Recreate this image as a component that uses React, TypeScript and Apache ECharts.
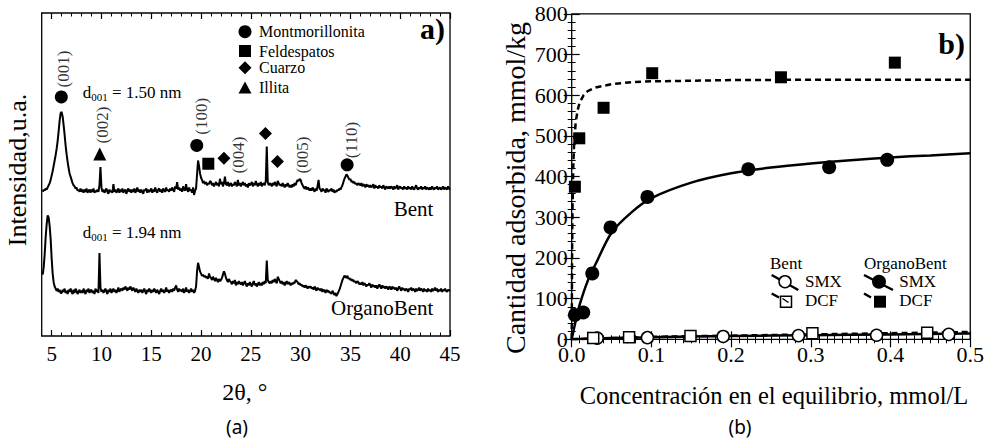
import React, { useEffect, useRef } from "react";
import * as echarts from "echarts";

const SERIF = "Liberation Serif";
const SANS = "Noto Sans";

// ---------- Panel (a): XRD patterns, sampled every 0.1° from 4.1° to 45.0° ----------
const twoThetaStart = 4.1;
const twoThetaStep = 0.1;

const bentIntensity = [
  134, 136, 135, 137, 136, 138, 140, 142, 145,
  149, 153, 158, 163, 168, 174, 181, 190, 200, 207,
  208, 204, 196, 187, 177, 169, 162, 156, 151, 148,
  145, 142, 140, 139, 137, 138, 135, 136, 134, 137,
  134, 136, 133, 136, 134, 137, 133, 135, 136, 133,
  136, 134, 137, 133, 135, 134, 136, 134, 140, 157,
  138, 134, 136, 133, 135, 137, 134, 132, 136, 134,
  135, 133, 141, 134, 136, 133, 135, 137, 133, 136,
  134, 137, 133, 135, 136, 132, 135, 137, 134, 136,
  133, 136, 134, 137, 133, 135, 138, 134, 136, 133,
  136, 134, 132, 136, 135, 137, 133, 136, 134, 135,
  137, 133, 136, 134, 138, 135, 133, 136, 137, 134,
  136, 133, 137, 135, 134, 138, 135, 136, 134, 137,
  135, 138, 136, 134, 139, 137, 143, 136, 138, 135,
  137, 134, 139, 136, 135, 141, 136, 134, 138, 135,
  136, 133, 138, 131, 135, 137, 150, 163, 158, 151,
  147, 145, 142, 144, 141, 143, 140, 142, 141, 144,
  143, 140, 142, 139, 141, 143, 140, 142, 139, 146,
  141, 143, 139, 142, 148, 141, 140, 143, 139, 141,
  142, 139, 141, 140, 143, 141, 139, 145, 140, 142,
  139, 141, 143, 140, 142, 139, 141, 138, 142, 140,
  141, 143, 139, 142, 140, 144, 141, 139, 142, 140,
  143, 139, 141, 142, 140, 144, 176, 143, 140, 142,
  141, 139, 142, 140, 143, 141, 139, 144, 142, 140,
  141, 139, 142, 140, 138, 141, 139, 142, 140, 138,
  140, 138, 141, 139, 142, 140, 143, 145, 144, 146,
  145, 142, 140, 138, 137, 139, 136, 138, 137, 135,
  137, 135, 138, 136, 134, 137, 135, 139, 145, 137,
  136, 134, 137, 135, 136, 133, 137, 135, 134, 136,
  135, 137, 134, 136, 133, 135, 134, 136, 135, 137,
  136, 138, 140, 143, 146, 148, 150, 149, 147, 145,
  146, 143, 144, 142, 143, 141, 142, 140, 142, 141,
  140, 142, 139, 141, 140, 138, 141, 139, 140, 138,
  140, 138, 139, 141, 137, 140, 138, 139, 137, 140,
  138, 139, 137, 140, 138, 136, 139, 138, 137, 139,
  137, 139, 138, 136, 139, 137, 138, 140, 136, 138,
  139, 137, 138, 136, 139, 137, 138, 136, 139, 137,
  138, 136, 139, 137, 136, 138, 140, 137, 136, 138,
  137, 139, 136, 138, 137, 139, 136, 138, 137, 136,
  138, 136, 139, 137, 136, 138, 137, 139, 136, 137,
  138, 136, 137, 139, 136, 138, 137, 136, 139, 137,
  136,
];

const organoBentIntensity = [
  57, 64, 76, 92, 104, 112, 110, 102, 90,
  72, 58, 50, 46, 44, 42, 44, 41, 43, 40,
  40, 43, 41, 44, 40, 42, 39, 43, 41, 44,
  41, 39, 43, 40, 44, 42, 39, 41, 43, 40,
  42, 40, 44, 41, 39, 43, 41, 44, 40, 42,
  43, 40, 42, 39, 44, 41, 43, 40, 77, 45,
  41, 43, 40, 42, 44, 41, 39, 43, 41, 44,
  40, 42, 44, 41, 43, 40, 42, 45, 41, 43,
  44, 42, 45, 43, 46, 44, 42, 45, 43, 46,
  44, 42, 45, 43, 41, 44, 42, 40, 43, 41,
  43, 40, 42, 44, 41, 39, 43, 41, 44, 42,
  40, 43, 41, 44, 42, 40, 43, 41, 39, 42,
  44, 41, 43, 40, 42, 45, 41, 43, 40, 42,
  43, 41, 44, 42, 45, 47, 43, 41, 44, 42,
  43, 41, 44, 40, 42, 45, 41, 43, 40, 42,
  44, 41, 43, 40, 42, 46, 60, 68, 64, 60,
  58, 56, 57, 55, 56, 54, 55, 53, 58, 55,
  54, 52, 55, 53, 51, 54, 52, 50, 53, 51,
  52, 54, 57, 60, 58, 54, 52, 50, 53, 51,
  50, 48, 51, 49, 52, 47, 50, 48, 51, 49,
  48, 50, 47, 49, 51, 48, 46, 49, 47, 50,
  48, 46, 49, 51, 47, 49, 46, 48, 50, 47,
  49, 47, 50, 48, 51, 49, 70, 52, 50, 49,
  51, 49, 52, 50, 53, 51, 49, 55, 53, 51,
  49, 51, 48, 50, 47, 49, 51, 48, 50, 49,
  47, 49, 48, 50, 49, 52, 51, 50, 48, 49,
  47, 48, 46, 47, 45, 47, 46, 44, 46, 45,
  46, 44, 45, 43, 46, 44, 42, 45, 43, 44,
  42, 44, 41, 43, 42, 40, 43, 41, 42, 40,
  41, 39, 42, 40, 38, 40, 37, 39, 41, 43,
  46, 49, 52, 54, 56, 55, 54, 56, 53, 54,
  52, 53, 51, 52, 50, 51, 49, 51, 50, 48,
  49, 48, 50, 47, 49, 48, 46, 48, 47, 49,
  47, 45, 48, 46, 47, 45, 47, 44, 46, 48,
  46, 44, 47, 45, 46, 44, 46, 45, 43, 46,
  45, 43, 46, 44, 45, 43, 45, 42, 44, 46,
  44, 42, 45, 43, 44, 42, 44, 43, 41, 44,
  43, 45, 42, 44, 43, 41, 44, 42, 43, 45,
  42, 44, 43, 41, 44, 42, 43, 41, 44, 42,
  43, 41, 44, 42, 43, 45, 42, 44, 41, 43,
  42, 44, 41, 43, 42, 44, 42, 41, 43, 42,
  43,
];

const xTicksMajorA = [5, 10, 15, 20, 25, 30, 35, 40, 45];

// phase markers [2θ, height]
const montmorilloniteMarks = [[5.97, 222], [19.57, 177], [34.67, 159]];
const illiteMarks = [[9.83, 169]];
const feldsparMarks = [[20.73, 160]];
const quartzMarks = [[22.3, 165], [26.47, 188], [27.67, 162]];
const reflectionNames = ["(001)", "(002)", "(100)", "(004)", "(005)", "(110)"];
const reflectionX = [6.17, 10.07, 20.07, 23.73, 30.23, 35.07];
const reflectionY = [248, 196, 204, 168, 168, 182];

// ---------- Panel (b): adsorption isotherms ----------
const organoSmxC = [0.004, 0.0145, 0.0258, 0.0487, 0.095, 0.2216, 0.323, 0.3958];
const organoSmxQ = [60, 66, 162, 275, 350, 418, 423, 441];
const organoDcfC = [0.004, 0.0095, 0.04, 0.101, 0.2625, 0.4054];
const organoDcfQ = [375, 494, 569, 654, 644, 680];
const bentSmxC = [0.032, 0.095, 0.19, 0.2845, 0.3825, 0.473];
const bentSmxQ = [3, 4, 7, 9, 10, 12];
const bentDcfC = [0.027, 0.072, 0.149, 0.302, 0.446];
const bentDcfQ = [3, 5, 8, 15, 16];

const organoSmxFitC = [0, 0.005, 0.01, 0.02, 0.03, 0.05, 0.075, 0.1, 0.15, 0.2, 0.25, 0.3, 0.35, 0.4, 0.45, 0.5];
const organoSmxFitQ = [0, 45, 85, 143, 185, 262, 312, 347, 385, 408, 422, 432, 440, 447, 452, 457];
const organoDcfFitC = [0, 0.0005, 0.001, 0.002, 0.003, 0.005, 0.0075, 0.01, 0.015, 0.02, 0.03, 0.05, 0.075, 0.1, 0.2, 0.3, 0.4, 0.5];
const organoDcfFitQ = [0, 213, 320, 427, 480, 533, 564, 582, 600, 610, 619, 627, 632, 634, 637, 638, 638, 638];
const bentFitC = [0, 0.05, 0.1, 0.2, 0.3, 0.4, 0.5];
const bentSmxFitQ = [0, 3, 5, 8, 10, 12, 14];
const bentDcfFitQ = [0, 3, 6, 9, 12, 15, 18];

const zip = (a: number[], b: number[]) => a.map((v, i) => [v, b[i]]);

export default function App() {
  const ref = useRef<HTMLDivElement>(null);
  useEffect(() => {
    document.body.style.margin = "0";
    const chart = echarts.init(ref.current!, null, { renderer: "svg" });
    const xrd = (arr: number[]) =>
      arr.map((v, i) => [+(twoThetaStart + i * twoThetaStep).toFixed(1), v]);

    const gridA = { left: 41.7, top: 13, width: 408.3, height: 323 };
    const gridB = { left: 571.7, top: 13.8, width: 400, height: 325.5 };
    const black = "#000";
    const txt = (text: string, x: number, y: number, size: number, extra: any = {}, rotation = 0) => ({
      type: "text",
      x,
      y,
      rotation,
      silent: true,
      style: {
        text,
        fill: black,
        fontFamily: SERIF,
        fontSize: size,
        align: "left",
        verticalAlign: "middle",
        ...extra,
      },
    });
    const markerA = (sym: string, data: number[][], size: number) => ({
      type: "scatter",
      xAxisIndex: 0,
      yAxisIndex: 0,
      symbol: sym,
      symbolSize: size,
      itemStyle: { color: black, opacity: 1 },
      data,
      z: 5,
    });
    const dRich = {
      m: { fontSize: 17, fontFamily: SERIF, lineHeight: 20, color: black },
      s: { fontSize: 11, fontFamily: SERIF, verticalAlign: "bottom", lineHeight: 14, color: black },
    };

    const option: any = {
      animation: false,
      backgroundColor: "#fff",
      textStyle: { fontFamily: SERIF, color: black },
      grid: [
        { ...gridA, show: true, borderColor: black, borderWidth: 1.3, backgroundColor: "transparent" },
        { ...gridB, show: true, borderColor: black, borderWidth: 1.3, backgroundColor: "transparent" },
        { ...gridA, show: false },
      ],
      xAxis: [
        {
          gridIndex: 0, type: "value", min: 4, max: 45, position: "bottom",
          axisLine: { show: false }, splitLine: { show: false },
          axisTick: { show: true, inside: true, length: 6, customValues: xTicksMajorA, lineStyle: { color: black, width: 1.2 } },
          axisLabel: { show: true, customValues: xTicksMajorA, color: black, fontFamily: SERIF, fontSize: 21, margin: 7 },
        },
        {
          gridIndex: 0, type: "value", min: 4, max: 45, position: "top",
          axisLine: { show: false }, splitLine: { show: false },
          axisTick: { show: true, inside: true, length: 6, customValues: xTicksMajorA, lineStyle: { color: black, width: 1.2 } },
          axisLabel: { show: false },
        },
        {
          gridIndex: 1, type: "value", min: 0, max: 0.5, interval: 0.1, position: "bottom",
          axisLine: { show: false }, splitLine: { show: false },
          axisTick: { show: true, inside: true, length: 8, lineStyle: { color: black, width: 1.2 } },
          minorTick: { show: true, splitNumber: 10, length: 4, lineStyle: { color: black, width: 1 } },
          minorSplitLine: { show: false },
          axisLabel: { color: black, fontFamily: SERIF, fontSize: 22, margin: 4, formatter: (v: number) => v.toFixed(1) },
        },
        {
          gridIndex: 1, type: "value", min: 0, max: 0.5, interval: 0.1, position: "top",
          axisLine: { show: false }, splitLine: { show: false },
          axisTick: { show: true, inside: true, length: 8, lineStyle: { color: black, width: 1.2 } },
          minorTick: { show: true, splitNumber: 10, length: 4, lineStyle: { color: black, width: 1 } },
          axisLabel: { show: false },
        },
        {
          gridIndex: 2, type: "value", min: 4, max: 45, interval: 1, position: "bottom",
          axisLine: { show: false }, splitLine: { show: false },
          axisTick: { show: true, inside: true, length: 3.5, lineStyle: { color: black, width: 1 } },
          axisLabel: { show: false },
        },
        {
          gridIndex: 2, type: "value", min: 4, max: 45, interval: 1, position: "top",
          axisLine: { show: false }, splitLine: { show: false },
          axisTick: { show: true, inside: true, length: 3.5, lineStyle: { color: black, width: 1 } },
          axisLabel: { show: false },
        },
      ],
      yAxis: [
        { gridIndex: 0, type: "value", min: 0, max: 300, show: false, splitLine: { show: false } },
        {
          gridIndex: 1, type: "value", min: 0, max: 800, interval: 100, position: "left",
          axisLine: { show: false }, splitLine: { show: false },
          axisTick: { show: true, inside: true, length: 8, lineStyle: { color: black, width: 1.2 } },
          minorTick: { show: true, splitNumber: 5, length: 4, lineStyle: { color: black, width: 1 } },
          axisLabel: { color: black, fontFamily: SERIF, fontSize: 22, margin: 4 },
        },
        {
          gridIndex: 1, type: "value", min: 0, max: 800, interval: 100, position: "right",
          axisLine: { show: false }, splitLine: { show: false },
          axisTick: { show: true, inside: true, length: 8, lineStyle: { color: black, width: 1.2 } },
          minorTick: { show: true, splitNumber: 5, length: 4, lineStyle: { color: black, width: 1 } },
          axisLabel: { show: false },
        },
        { gridIndex: 2, type: "value", min: 0, max: 300, show: false, splitLine: { show: false } },
      ],
      series: [
        {
          name: "Bent XRD", type: "line", xAxisIndex: 0, yAxisIndex: 0, showSymbol: false,
          lineStyle: { color: black, width: 2 }, data: xrd(bentIntensity), z: 3,
        },
        {
          name: "OrganoBent XRD", type: "line", xAxisIndex: 0, yAxisIndex: 0, showSymbol: false,
          lineStyle: { color: black, width: 2 }, data: xrd(organoBentIntensity), z: 3,
        },
        markerA("circle", montmorilloniteMarks, 13),
        markerA("rect", feldsparMarks, 12),
        markerA("diamond", quartzMarks, 13),
        markerA("triangle", illiteMarks, 13),
        {
          type: "scatter", xAxisIndex: 0, yAxisIndex: 0, symbol: "circle", symbolSize: 0.1,
          itemStyle: { color: "rgba(0,0,0,0)" },
          label: {
            show: true, position: "inside", rotate: 90, formatter: "{b}",
            color: black, fontFamily: SERIF, fontSize: 17,
          },
          data: reflectionNames.map((n, i) => ({ name: n, value: [reflectionX[i], reflectionY[i]] })),
          z: 6,
        },
        // panel b
        {
          type: "line", xAxisIndex: 2, yAxisIndex: 1, showSymbol: false, smooth: 0.3,
          lineStyle: { color: black, width: 2.5 }, data: zip(organoSmxFitC, organoSmxFitQ), z: 3,
        },
        {
          type: "line", xAxisIndex: 2, yAxisIndex: 1, showSymbol: false,
          lineStyle: { color: black, width: 2.5, type: [6, 4] }, data: zip(organoDcfFitC, organoDcfFitQ), z: 3,
        },
        {
          type: "line", xAxisIndex: 2, yAxisIndex: 1, showSymbol: false, smooth: 0.3,
          lineStyle: { color: black, width: 2.5 }, data: zip(bentFitC, bentSmxFitQ), z: 3,
        },
        {
          type: "line", xAxisIndex: 2, yAxisIndex: 1, showSymbol: false, smooth: 0.3,
          lineStyle: { color: black, width: 2.5, type: [6, 4] }, data: zip(bentFitC, bentDcfFitQ), z: 3,
        },
        {
          type: "scatter", xAxisIndex: 2, yAxisIndex: 1, symbol: "circle", symbolSize: 12,
          itemStyle: { color: "#fff", borderColor: black, borderWidth: 1.5, opacity: 1 }, data: zip(bentSmxC, bentSmxQ), z: 4,
        },
        {
          type: "scatter", xAxisIndex: 2, yAxisIndex: 1, symbol: "rect", symbolSize: 11,
          itemStyle: { color: "#fff", borderColor: black, borderWidth: 1.5, opacity: 1 }, data: zip(bentDcfC, bentDcfQ), z: 4,
        },
        {
          type: "scatter", xAxisIndex: 2, yAxisIndex: 1, symbol: "circle", symbolSize: 14,
          itemStyle: { color: black, opacity: 1 }, data: zip(organoSmxC, organoSmxQ), z: 4,
        },
        {
          type: "scatter", xAxisIndex: 2, yAxisIndex: 1, symbol: "rect", symbolSize: 12,
          itemStyle: { color: black, opacity: 1 }, data: zip(organoDcfC, organoDcfQ), z: 4,
        },
      ],
      graphic: [
        // panel a legend
        { type: "circle", shape: { cx: 245, cy: 31.7, r: 6.5 }, style: { fill: black } },
        { type: "rect", shape: { x: 239, y: 45, width: 12, height: 12 }, style: { fill: black } },
        { type: "polygon", shape: { points: [[245, 61.2], [251.5, 67.7], [245, 74.2], [238.5, 67.7]] }, style: { fill: black } },
        { type: "polygon", shape: { points: [[245, 81.5], [251.5, 93.5], [238.5, 93.5]] }, style: { fill: black } },
        txt("Montmorillonita", 259, 31.7, 16),
        txt("Feldespatos", 259, 51, 16),
        txt("Cuarzo", 259, 67.7, 16),
        txt("Illita", 259, 87.7, 16),
        txt("a)", 445, 28.3, 30, { align: "right", fontWeight: "bold" }),
        {
          type: "text", x: 82.7, y: 92.7, silent: true,
          style: { text: "{m|d}{s|001}{m| = 1.50 nm}", fill: black, fontFamily: SERIF, align: "left", verticalAlign: "middle", rich: dRich },
        },
        {
          type: "text", x: 82.7, y: 232.7, silent: true,
          style: { text: "{m|d}{s|001}{m| = 1.94 nm}", fill: black, fontFamily: SERIF, align: "left", verticalAlign: "middle", rich: dRich },
        },
        txt("Bent", 433.3, 209.3, 21, { align: "right" }),
        txt("OrganoBent", 433.3, 308.3, 21, { align: "right" }),
        txt("Intensidad,u.a.", 17, 170, 26, { align: "center" }, Math.PI / 2),
        txt("2θ, °", 244.7, 391.7, 24, { align: "center" }),
        txt("(a)", 237, 427, 19, { align: "center", fontFamily: SANS }),
        // panel b
        txt("b)", 965, 43.3, 30, { align: "right", fontWeight: "bold" }),
        txt("Bent", 770, 263.3, 17),
        txt("OrganoBent", 864, 263.3, 17),
        txt("SMX", 805, 281.7, 17),
        txt("DCF", 805, 300.5, 17),
        txt("SMX", 899.3, 281.7, 17),
        txt("DCF", 899.3, 300.5, 17),
        { type: "line", shape: { x1: 771.7, y1: 275, x2: 798.3, y2: 290 }, style: { stroke: black, lineWidth: 2.5 } },
        { type: "circle", shape: { cx: 785, cy: 281.7, r: 6 }, style: { fill: "#fff", stroke: black, lineWidth: 1.5 } },
        { type: "line", shape: { x1: 771.7, y1: 293.5, x2: 779, y2: 297.5 }, style: { stroke: black, lineWidth: 2.5 } },
        { type: "rect", shape: { x: 780.5, y: 296.2, width: 11, height: 11 }, style: { fill: "#fff", stroke: black, lineWidth: 1.5 } },
        { type: "line", shape: { x1: 782.5, y1: 298.5, x2: 788.5, y2: 302.5 }, style: { stroke: black, lineWidth: 1.5 } },
        { type: "line", shape: { x1: 864, y1: 275, x2: 893, y2: 290 }, style: { stroke: black, lineWidth: 2.5 } },
        { type: "circle", shape: { cx: 879, cy: 281.7, r: 7 }, style: { fill: black } },
        { type: "line", shape: { x1: 864, y1: 293.5, x2: 871, y2: 297.5 }, style: { stroke: black, lineWidth: 2.5 } },
        { type: "rect", shape: { x: 874, y: 295.7, width: 12, height: 12 }, style: { fill: black } },
        txt("Cantidad adsorbida, mmol/kg", 515, 188, 28, { align: "center" }, Math.PI / 2),
        txt("Concentración en el equilibrio, mmol/L", 774, 395, 24.5, { align: "center" }),
        txt("(b)", 740, 427, 19, { align: "center", fontFamily: SANS }),
      ],
    };
    chart.setOption(option);
    return () => chart.dispose();
  }, []);
  return <div ref={ref} style={{ width: 987, height: 440 }} />;
}
